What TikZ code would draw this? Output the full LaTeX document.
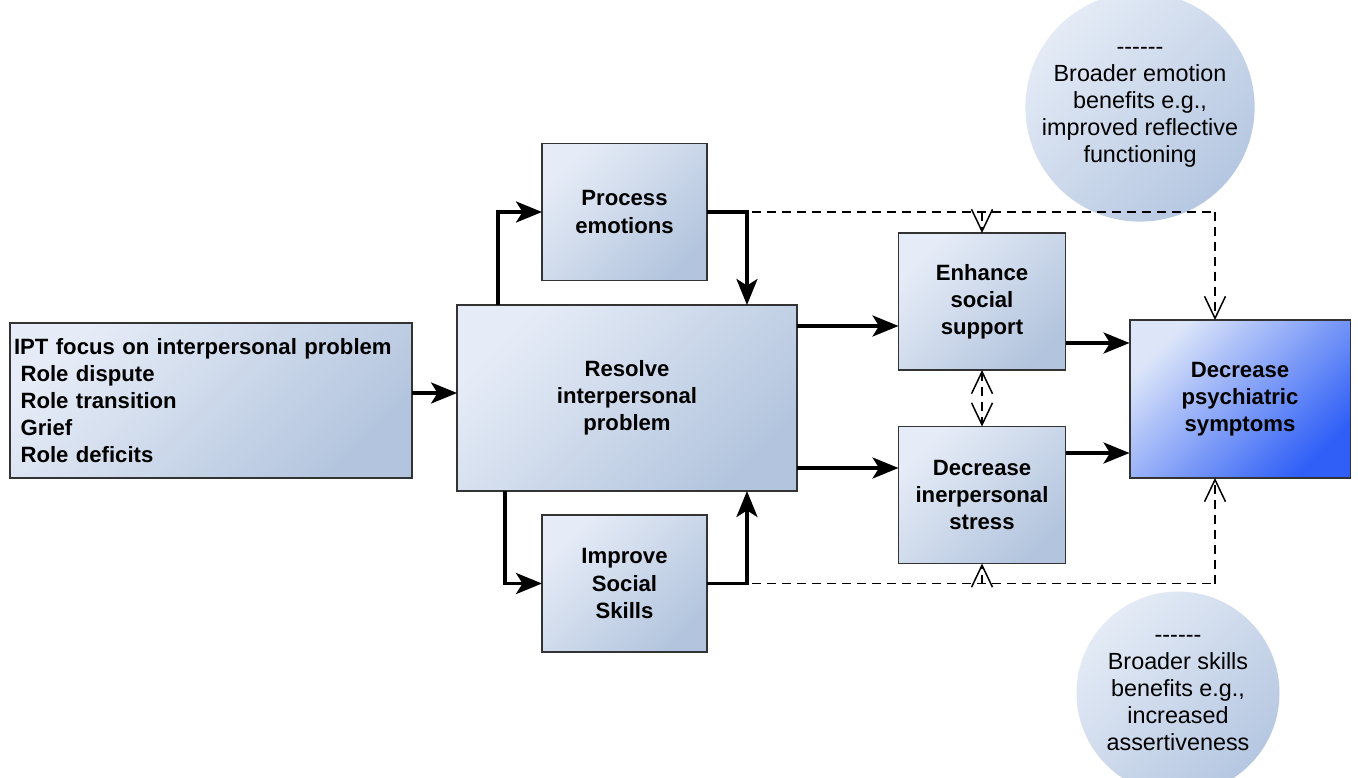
\documentclass[tikz,border=0pt]{standalone}
\usepackage{fontspec}
\setmainfont{Liberation Sans}
\newfontfamily\cfont{Liberation Sans}
\usetikzlibrary{arrows.meta,calc}
\definecolor{boxlight}{HTML}{E6ECF7}
\definecolor{boxdark}{HTML}{B3C5DE}
\definecolor{psylight}{HTML}{DDE6F8}
\definecolor{psydark}{HTML}{2F5FF7}
\definecolor{circlight}{HTML}{E4EBF6}
\definecolor{circdark}{HTML}{B5C7E1}
\definecolor{edge}{HTML}{333333}
\tikzset{
  stepbox/.style={draw=edge, line width=1.1pt, top color=boxlight, bottom color=boxdark,
    shading angle=45, inner sep=0pt, outer sep=0pt, align=center,
    font=\bfseries\fontsize{12.6}{15.4}\selectfont},
  bubble/.style={circle, minimum size=4.06cm, inner sep=0pt, top color=circlight,
    bottom color=circdark, shading angle=45, align=center,
    font=\cfont\fontsize{13.3}{15.4}\selectfont},
  sarr/.style={line width=2pt, -{Stealth[length=0.52cm,width=0.42cm,inset=0.13cm]}},
  darr/.style={line width=0.85pt, dash pattern=on 0.18cm off 0.12cm,
    -{Straight Barb[length=0.44cm,width=0.42cm,line width=0.85pt]}},
  dline/.style={line width=0.85pt, dash pattern=on 0.18cm off 0.12cm},
}
\begin{document}
\begin{tikzpicture}[x=0.02cm, y=-0.02cm]
\useasboundingbox (0,0) rectangle (1358,777);
\clip (0,0) rectangle (1358,777);
\fill[white] (0,0) rectangle (1358,777);

% circles
\node[bubble] (c1) at (1140,107) {------\\Broader emotion\\benefits e.g.,\\improved reflective\\functioning};
\node[bubble] (c2) at (1178,693) {------\\Broader skills\\benefits e.g.,\\increased\\assertiveness};

% boxes
\node[stepbox, minimum width=8.04cm, minimum height=3.1cm, text width=7.88cm, align=left, inner xsep=0.08cm] (ipt) at (211,400.5)
  {IPT focus on interpersonal problem\\\hspace*{0.13cm}Role dispute\\\hspace*{0.13cm}Role transition\\\hspace*{0.13cm}Grief\\\hspace*{0.13cm}Role deficits};
\node[stepbox, minimum width=6.8cm, minimum height=3.72cm] (res) at (627,398) {Resolve\\interpersonal\\problem};
\node[stepbox, minimum width=3.3cm, minimum height=2.74cm] (proc) at (624.5,212) {Process\\emotions};
\node[stepbox, minimum width=3.3cm, minimum height=2.74cm] (imp) at (624.5,583.5) {Improve\\Social\\Skills};
\node[stepbox, minimum width=3.34cm, minimum height=2.74cm] (enh) at (982,301.5) {Enhance\\social\\support};
\node[stepbox, minimum width=3.34cm, minimum height=2.74cm] (str) at (982,495) {Decrease\\inerpersonal\\stress};
\node[stepbox, minimum width=4.42cm, minimum height=3.16cm, top color=psylight, bottom color=psydark, shading angle=45] (psy) at (1240,399) {Decrease\\psychiatric\\symptoms};

% dashed feedback lines
\draw[dline] (proc.east) -- ([xshift=-0.5cm]psy.north |- proc.east);
\draw[darr] ([xshift=-0.5cm]psy.north |- proc.east) -- ([xshift=-0.5cm]psy.north);
\draw[darr] (enh.north |- proc.east) -- (enh.north);
\draw[dline] (imp.east) -- ([xshift=-0.5cm]psy.south |- imp.east);
\draw[darr] ([xshift=-0.5cm]psy.south |- imp.east) -- ([xshift=-0.5cm]psy.south);
\draw[darr] (str.south |- imp.east) -- (str.south);
\draw[darr, {Straight Barb[length=0.44cm,width=0.42cm,line width=0.85pt]}-{Straight Barb[length=0.44cm,width=0.42cm,line width=0.85pt]}] (enh.south) -- (str.north);

% solid arrows
\draw[sarr] (ipt.east |- {(0,393)}) -- (res.west |- {(0,393)});
\draw[sarr] ([xshift=0.82cm]res.north west) |- (proc.west);
\draw[sarr] (proc.east) -| ([xshift=-1.0cm]res.north east);
\draw[sarr] ([xshift=0.96cm]res.south west) |- (imp.west);
\draw[sarr] (imp.east) -| ([xshift=-1.0cm]res.south east);
\draw[sarr] (res.east |- {(0,326)}) -- (enh.west |- {(0,326)});
\draw[sarr] (res.east |- {(0,468)}) -- (str.west |- {(0,468)});
\draw[sarr] (enh.east |- {(0,343)}) -- (psy.west |- {(0,343)});
\draw[sarr] (str.east |- {(0,453)}) -- (psy.west |- {(0,453)});
\end{tikzpicture}
\end{document}
